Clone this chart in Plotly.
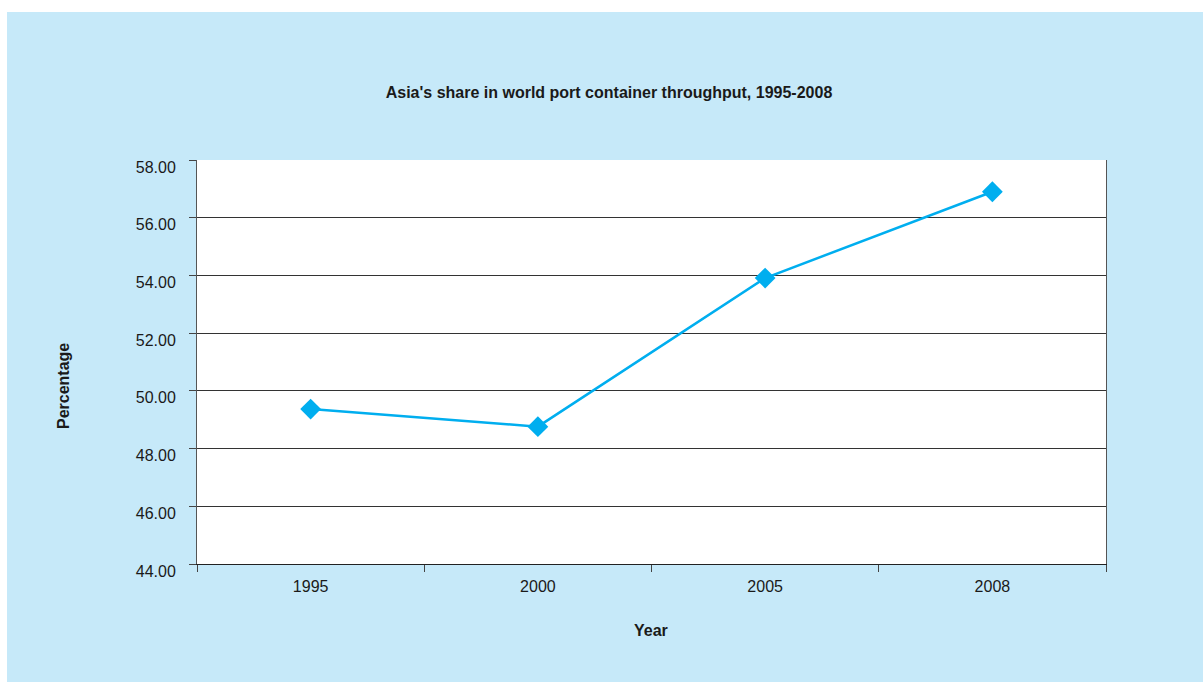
import plotly.graph_objects as go

years = ["1995", "2000", "2005", "2008"]
share = [49.37, 48.76, 53.91, 56.90]
y_ticks = [44, 46, 48, 50, 52, 54, 56, 58]
y_tick_labels = ["44.00", "46.00", "48.00", "50.00", "52.00", "54.00", "56.00", "58.00"]

FONT = "Liberation Sans, Arial, sans-serif"
BG = "#C6E9F9"
LINE = "#00AEEF"
TXT = "#1a1a1a"

W, H = 1203, 682
L, R, T, B = 197, 97, 160, 118
pw, ph = W - L - R, H - T - B

fig = go.Figure()
fig.add_trace(go.Scatter(
    x=years, y=share, mode="lines+markers",
    line=dict(color=LINE, width=2.5),
    marker=dict(symbol="diamond", size=16, color=LINE),
    showlegend=False, hoverinfo="x+y",
))

# white strips at top and left (outside the blue panel)
fig.add_shape(type="rect", xref="paper", yref="paper",
              x0=(0 - L) / pw, x1=(7 - L) / pw, y0=-B / ph - 0.1, y1=(H - B) / ph + 0.1,
              fillcolor="white", line_width=0, layer="below")
fig.add_shape(type="rect", xref="paper", yref="paper",
              x0=(0 - L) / pw - 0.1, x1=(W - L) / pw + 0.1, y0=(H - B - 12) / ph, y1=(H - B) / ph + 0.1,
              fillcolor="white", line_width=0, layer="below")

fig.add_annotation(text="<b>Year</b>", xref="paper", yref="paper",
                   x=(651 - L) / pw, y=-(630 - (H - B)) / ph,
                   xanchor="center", yanchor="middle", showarrow=False,
                   font=dict(family=FONT, size=16, color=TXT))
fig.add_annotation(text="<b>Percentage</b>", xref="paper", yref="paper",
                   x=(63 - L) / pw, y=((H - B) - 386) / ph, textangle=-90,
                   xanchor="center", yanchor="middle", showarrow=False,
                   font=dict(family=FONT, size=16, color=TXT))

fig.update_layout(
    width=W, height=H,
    margin=dict(l=L, r=R, t=T, b=B),
    paper_bgcolor=BG, plot_bgcolor="white",
    font=dict(family=FONT, color=TXT, size=16),
    title=dict(text="<b>Asia's share in world port container throughput, 1995-2008</b>",
               x=609 / W, xref="container", xanchor="center",
               y=1 - 92 / H, yref="container", yanchor="middle",
               font=dict(family=FONT, size=16, color=TXT)),
    xaxis=dict(
        type="category", tickson="boundaries", ticks="outside", ticklen=7,
        tickcolor="#444", showgrid=False, showline=True, linecolor="#222", linewidth=1,
        tickfont=dict(size=16), range=[-0.5, 3.5], ticklabelstandoff=8,
    ),
    yaxis=dict(
        range=[44, 58], tickvals=y_ticks, ticktext=y_tick_labels,
        ticks="outside", ticklen=7, tickcolor="#444",
        showgrid=True, gridcolor="#333", gridwidth=1,
        showline=True, linecolor="#555", linewidth=1, mirror=True,
        zeroline=False, tickfont=dict(size=16),
        ticklabelstandoff=10, ticklabelshift=7,
    ),
)

fig.write_html("out.html")
